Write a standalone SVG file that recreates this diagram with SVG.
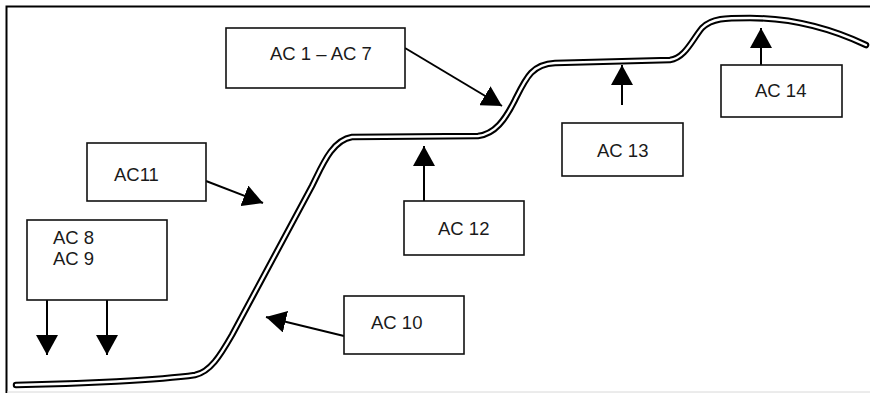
<svg xmlns="http://www.w3.org/2000/svg" width="870" height="393" viewBox="0 0 870 393">
<style>
.box{fill:#fff;stroke:#111;stroke-width:1.6}
.lbl{font-family:"Liberation Sans",Arial,sans-serif;font-size:18.5px;fill:#1a1a1a}
.con{stroke:#000;stroke-width:2;fill:none;marker-end:url(#ah)}
</style>
<defs>
<marker id="ah" markerUnits="userSpaceOnUse" viewBox="0 0 20 22" refX="20" refY="11" markerWidth="20" markerHeight="22" orient="auto">
<path d="M0,0 L20,11 L0,22 z" fill="#000"/>
</marker>
</defs>
<rect width="870" height="393" fill="#fff"/>
<g id="frame">
<path d="M870,6.5 L6.5,6.5 L6.5,393" fill="none" stroke="#000" stroke-width="2"/>
<path d="M7,392 L870,392" fill="none" stroke="#d8d8d8" stroke-width="1"/>
</g>
<g id="curve">
<path d="M16,385 C80,384 160,380 195,375 C210,372 220,356 232,335 L312,186 C322,166 332,140 352,137 L478,136 C495,134 505,120 515,100 C526,78 532,64 555,63 L670,60 C685,58 692,40 702,28 C712,18 725,18 750,18 C790,18 830,28 866,45" fill="none" stroke="#000" stroke-width="6.5" stroke-linecap="round" stroke-linejoin="round"/>
<path d="M16,385 C80,384 160,380 195,375 C210,372 220,356 232,335 L312,186 C322,166 332,140 352,137 L478,136 C495,134 505,120 515,100 C526,78 532,64 555,63 L670,60 C685,58 692,40 702,28 C712,18 725,18 750,18 C790,18 830,28 866,45" fill="none" stroke="#fff" stroke-width="2.4" stroke-linecap="round" stroke-linejoin="round"/>
</g>
<g id="connectors">
<path class="con" d="M47,298 L47,355"/>
<path class="con" d="M107,298 L107,355"/>
<path class="con" d="M206,181 L263,203"/>
<path class="con" d="M405,48 L502,106"/>
<path class="con" d="M424,201 L424,146"/>
<path class="con" d="M344,336 L266,317"/>
<path class="con" d="M622,105 L622,65"/>
<path class="con" d="M761,65 L761,28"/>
</g>
<g id="ac8-9">
<rect class="box" x="27" y="220" width="140" height="80"/>
<text class="lbl" x="53" y="244">AC 8</text>
<text class="lbl" x="53" y="265">AC 9</text>
</g>
<g id="ac11">
<rect class="box" x="87" y="143" width="119" height="58"/>
<text class="lbl" x="114" y="181">AC11</text>
</g>
<g id="ac1-7">
<rect class="box" x="226" y="28" width="179" height="60"/>
<text class="lbl" x="270" y="60">AC 1 – AC 7</text>
</g>
<g id="ac12">
<rect class="box" x="404" y="201" width="120" height="54"/>
<text class="lbl" x="438" y="235">AC 12</text>
</g>
<g id="ac10">
<rect class="box" x="344" y="296" width="120" height="58"/>
<text class="lbl" x="371" y="329">AC 10</text>
</g>
<g id="ac13">
<rect class="box" x="562" y="123" width="121" height="53"/>
<text class="lbl" x="597" y="157">AC 13</text>
</g>
<g id="ac14">
<rect class="box" x="721" y="65" width="121" height="52"/>
<text class="lbl" x="755" y="97">AC 14</text>
</g>
</svg>
